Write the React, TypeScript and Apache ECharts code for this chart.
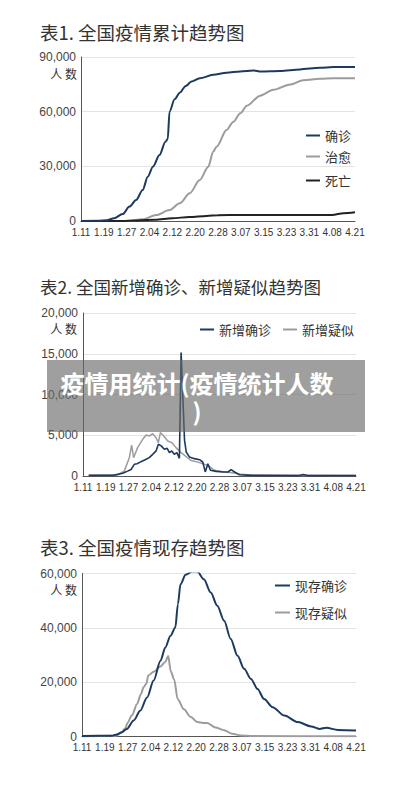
import React, { useEffect, useRef } from 'react';
import * as echarts from 'echarts';

// x positions are slots on the chart's date axis (0 = 1.11, 96 = 4.21, label every 8 slots)
const xLabels = ['1.11', '1.19', '1.27', '2.04', '2.12', '2.20', '2.28', '3.07', '3.15', '3.23', '3.31', '4.08', '4.21'];

// 表1 累计
const cumConfirmed: [number, number][] = [
  [0, 0], [6, 100], [9, 400], [11.6, 1500], [14.6, 3800], [17, 7900], [19.3, 11500], [21.6, 17000],
  [23.4, 24300], [25.2, 29800], [27.5, 36200], [29.6, 43500], [30.4, 45000], [31, 60000], [32.8, 66800],
  [34.6, 70400], [36.7, 74100], [38.7, 76500], [41.6, 78300], [46.3, 80200], [51, 81400], [55.8, 82100],
  [60.5, 82600], [63, 82000], [69.8, 82300], [76.7, 83200], [83.7, 84100], [88.4, 84500], [96, 84500],
];
const cumCured: [number, number][] = [
  [0, 0], [15.8, 0], [21.6, 900], [26.4, 3300], [31, 6000], [34.6, 9700], [38.1, 15200], [41.6, 22500],
  [44.6, 29800], [46.3, 38000], [47.5, 40800], [51, 50000], [53.4, 54500], [55.8, 59100], [58.1, 63300],
  [62.8, 68800], [67.4, 72000], [73.3, 74900], [77.9, 77300], [83.7, 78000], [88.4, 78400], [96, 78400],
];
const cumDeath: [number, number][] = [
  [0, 0], [14, 0], [20, 300], [26, 700], [32, 1500], [38, 2200], [44, 2800], [48, 3200], [56, 3300],
  [88, 3300], [92, 4300], [96, 4800],
];

// 表2 新增
const newConfirmed: [number, number][] = [
  [2, 100], [10.5, 100], [12.2, 200], [14, 330], [15.7, 600], [16.9, 800], [18.1, 1450], [19, 1500],
  [20.4, 1760], [22.2, 2050], [23.3, 2250], [24.5, 2660], [25.7, 3080], [26.5, 3900], [27.5, 3700],
  [28.6, 3280], [29.6, 3400], [30.4, 2870], [31.2, 3080], [32.1, 2660], [33, 2870], [33.9, 2170],
  [34.5, 15150], [35.7, 4400], [36.3, 2950], [37.4, 2340], [39.2, 2130], [41, 2000], [42.1, 1720],
  [43, 500], [43.9, 1500], [44.8, 700], [46.8, 570], [49.2, 490], [51, 490], [52.1, 780], [53.3, 490],
  [55, 160], [59.2, 80], [76, 50], [77.5, 180], [79, 50], [96, 50],
];
const newSuspected: [number, number][] = [
  [2, 80], [10.5, 90], [12.2, 150], [14.5, 600], [16.3, 2250], [17.1, 3800], [17.8, 2250], [19.2, 3480],
  [21, 4500], [22.2, 5040], [23.3, 4900], [24.5, 5200], [25.7, 4700], [26.5, 4100], [27.2, 5330],
  [28.4, 4900], [29.8, 4300], [31.2, 4100], [32.7, 3480], [34.5, 2870], [38, 1900], [40.4, 1700],
  [43.9, 1300], [46.2, 700], [49.8, 490], [53.3, 370], [55.6, 200], [60, 80], [96, 60],
];

// 表3 现存
const curConfirmed: [number, number][] = [
  [0, 200], [10.4, 300], [12.2, 700], [14, 1600], [15.7, 2800], [18.1, 5900], [20.4, 9500], [22.8, 14400],
  [25.1, 20600], [27.5, 27900], [29.2, 32800], [31, 37100], [32.7, 40100], [33.6, 48700], [34.5, 56000],
  [36.3, 59500], [38.6, 60700], [40.4, 60700], [42.7, 57900], [45.1, 53000], [47.4, 48100], [49.8, 42600],
  [52.1, 35900], [54.5, 29700], [56.8, 24900], [59.2, 21200], [61.5, 17500], [63.8, 13800], [66.8, 10800],
  [70.9, 7700], [75.6, 5300], [80.3, 3700], [83.2, 2800], [85.6, 3200], [89.7, 2400], [96, 2200],
];
const curSuspected: [number, number][] = [
  [0, 0], [12, 300], [13.8, 1500], [15.2, 3000], [15.9, 5000], [17.5, 7800], [19.3, 12000], [20.6, 15500],
  [21.6, 18200], [22.6, 19500], [23.2, 22500], [25.1, 23800], [27.5, 25800], [29.2, 27500], [30.2, 29600],
  [31.1, 24000], [32.3, 21000], [33.5, 13800], [35.7, 10000], [38, 7300], [40.4, 5300], [42.5, 5000],
  [43.9, 5000], [46.8, 3300], [49.8, 2300], [52.7, 1000], [55.6, 400], [60, 150], [96, 100],
];

const titles = ['表1. 全国疫情累计趋势图', '表2. 全国新增确诊、新增疑似趋势图', '表3. 全国疫情现存趋势图'];
const yMax = [90000, 20000, 60000];
const yStep = [30000, 5000, 20000];
const overlayText = '疫情用统计(疫情统计人数\n)';

const NAVY = '#1d3a5e';
const GRAY = '#9c9c9c';
const BLACK = '#222222';
const CJK = '"Noto Sans CJK SC", "Noto Sans", sans-serif';
const NUM = '"Liberation Sans", Arial, sans-serif';

export default function App() {
  const ref = useRef<HTMLDivElement>(null);
  useEffect(() => {
    if (!ref.current) return;
    const chart = echarts.init(ref.current, undefined, { renderer: 'svg' });
    const grids = [
      { left: 81, top: 57, width: 274, height: 164 },
      { left: 83, top: 313, width: 273, height: 163 },
      { left: 82, top: 573.5, width: 274, height: 163 },
    ];
    const xAxis = grids.map((_, i) => ({
      type: 'value', gridIndex: i, min: 0, max: 96, interval: 8,
      axisLine: { show: true, lineStyle: { color: '#555', width: 1 } },
      axisTick: { show: false }, splitLine: { show: false },
      axisLabel: {
        formatter: (v: number) => xLabels[Math.round(v / 8)] ?? '',
        fontSize: 10, color: '#333', margin: 6, fontFamily: NUM,
      },
    }));
    const yAxis = grids.map((_, i) => ({
      type: 'value', gridIndex: i, min: 0, max: yMax[i], interval: yStep[i],
      axisLine: { show: true, lineStyle: { color: '#555', width: 1 } },
      axisTick: { show: false },
      splitLine: { show: true, lineStyle: { color: '#e4e4e4', width: 1 } },
      axisLabel: {
        formatter: (v: number) => v.toLocaleString('en-US'),
        fontSize: 12, color: '#444', margin: 5, fontFamily: NUM,
      },
    }));
    const line = (name: string, data: [number, number][], g: number, color: string, width: number, smooth: boolean) => ({
      name, type: 'line', xAxisIndex: g, yAxisIndex: g, data, showSymbol: false, symbol: 'none',
      smooth: smooth ? 0.3 : false, smoothMonotone: 'x',
      lineStyle: { color, width }, itemStyle: { color }, z: 3,
    });
    const legendBase = {
      orient: 'vertical', icon: 'rect', itemWidth: 14, itemHeight: 2, padding: 0,
      textStyle: { fontSize: 13, color: '#333', fontFamily: CJK },
    };
    chart.setOption({
      animation: false,
      backgroundColor: '#fff',
      title: titles.map((t, i) => ({
        text: t, left: 40, top: [23, 278, 538][i], padding: 0,
        textStyle: { fontSize: i === 1 ? 17.5 : 18.5, fontWeight: 'normal', color: '#333', fontFamily: CJK },
      })),
      grid: grids,
      xAxis, yAxis,
      legend: [
        { ...legendBase, data: ['确诊'], left: 306, top: 129 },
        { ...legendBase, data: ['治愈'], left: 306, top: 150 },
        { ...legendBase, data: ['死亡'], left: 306, top: 174 },
        { ...legendBase, orient: 'horizontal', itemGap: 12, data: ['新增确诊', '新增疑似'], left: 200, top: 323 },
        { ...legendBase, itemWidth: 15, data: ['现存确诊'], left: 275, top: 579 },
        { ...legendBase, itemWidth: 15, data: ['现存疑似'], left: 275, top: 606 },
      ],
      series: [
        line('治愈', cumCured, 0, GRAY, 2, true),
        line('死亡', cumDeath, 0, BLACK, 2, true),
        line('确诊', cumConfirmed, 0, NAVY, 2, true),
        line('新增疑似', newSuspected, 1, GRAY, 1.5, false),
        line('新增确诊', newConfirmed, 1, NAVY, 1.6, false),
        line('现存疑似', curSuspected, 2, GRAY, 2, true),
        line('现存确诊', curConfirmed, 2, NAVY, 2, true),
      ],
      graphic: [
        ...[73, 328, 589].map((y) => ({
          type: 'text', x: 77, y,
          style: { text: '人 数', fill: '#333', font: `12px ${CJK}`, textAlign: 'right', textVerticalAlign: 'middle' },
        })),
        {
          type: 'rect', z: 100, shape: { x: 47, y: 360, width: 318, height: 72 },
          style: { fill: 'rgba(105,105,105,0.64)' },
        },
        {
          type: 'text', z: 101, x: 197, y: 396,
          style: {
            text: overlayText, fill: '#fff', font: `bold 24px ${CJK}`, lineHeight: 28,
            textAlign: 'center', textVerticalAlign: 'middle',
          },
        },
      ],
    });
    return () => chart.dispose();
  }, []);
  return <div ref={ref} style={{ position: 'absolute', left: 0, top: 0, width: 413, height: 793, background: '#fff' }} />;
}
